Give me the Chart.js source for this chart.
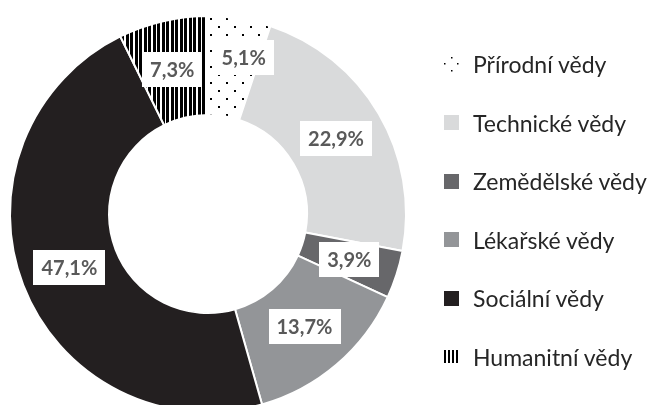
<!DOCTYPE html>
<html lang="cs">
<head>
<meta charset="UTF-8">
<title>Obory vědy</title>
<script src="https://cdn.jsdelivr.net/npm/chart.js"></script>
<style>
    body {
        margin: 0;
        width: 655px;
        height: 405px;
        overflow: hidden;
        background: #ffffff;
        font-family: Lato, "Open Sans", sans-serif;
        position: relative;
    }
    #chart {
        position: absolute;
        left: 0;
        top: 0;
    }
    #legend {
        position: absolute;
        left: 444px;
        top: 49px;
    }
    .item {
        display: flex;
        align-items: center;
        height: 30px;
        margin-bottom: 28.6px;
        font-size: 23px;
        color: #262626;
        white-space: nowrap;
    }
    .item canvas {
        margin-right: 14px;
    }
</style>
</head>
<body>
<canvas id="chart" width="420" height="430"></canvas>
<div id="legend"></div>

<script>
// data
const obory = ['Přírodní vědy', 'Technické vědy', 'Zemědělské vědy', 'Lékařské vědy', 'Sociální vědy', 'Humanitní vědy'];
const podily = [5.1, 22.9, 3.9, 13.7, 47.1, 7.3];
const popisky = ['5,1%', '22,9%', '3,9%', '13,7%', '47,1%', '7,3%'];

// vzory: tečky a svislé pruhy
function teckovany() {
    const c = document.createElement('canvas');
    c.width = 16; c.height = 16;
    const g = c.getContext('2d');
    g.fillStyle = '#fff';
    g.fillRect(0, 0, 16, 16);
    g.fillStyle = '#000';
    g.fillRect(2, 2, 2, 2);
    g.fillRect(10, 10, 2, 2);
    return c;
}
function pruhovany() {
    const c = document.createElement('canvas');
    c.width = 9; c.height = 4;
    const g = c.getContext('2d');
    g.fillStyle = '#fff';
    g.fillRect(0, 0, 9, 4);
    g.fillStyle = '#000';
    g.fillRect(0, 0, 3, 4);
    g.fillRect(4, 0, 3, 4);
    return c;
}

const ctx = document.getElementById('chart').getContext('2d');
const barvy = [
    ctx.createPattern(teckovany(), 'repeat'),
    '#d9dadb',
    '#67676a',
    '#939598',
    '#231f20',
    ctx.createPattern(pruhovany(), 'repeat')
];

// popisky v bílých rámečcích uprostřed výsečí
// (první popisek je odsunutý, aby se nepřekrýval s posledním)
const posun = [[12, -10], [0, 0], [0, 0], [0, 0], [0, 0], [-2, 0]];
const stitky = {
    id: 'stitky',
    afterDatasetsDraw(chart) {
        const c = chart.ctx;
        const meta = chart.getDatasetMeta(0);
        c.save();
        c.font = 'bold 20px Lato, sans-serif';
        c.textAlign = 'center';
        c.textBaseline = 'middle';
        meta.data.forEach((arc, i) => {
            const p = arc.tooltipPosition();
            const x = p.x + posun[i][0];
            const y = p.y + posun[i][1];
            const w = c.measureText(popisky[i]).width + 16;
            const h = 35;
            c.fillStyle = '#ffffff';
            c.fillRect(Math.round(x - w / 2), Math.round(y - h / 2), Math.round(w), h);
            c.fillStyle = '#595959';
            c.fillText(popisky[i], x, y + 1);
        });
        c.restore();
    }
};

new Chart(ctx, {
    type: 'doughnut',
    data: {
        labels: obory,
        datasets: [{
            data: podily,
            backgroundColor: barvy,
            borderColor: '#ffffff',
            borderWidth: 2,
            hoverOffset: 0
        }]
    },
    options: {
        responsive: false,
        animation: false,
        cutout: '50%',
        layout: { padding: { left: 9, top: 15, right: 13, bottom: 17 } },
        plugins: {
            legend: { display: false },
            tooltip: { enabled: false }
        }
    },
    plugins: [stitky]
});

// legenda
const legenda = document.getElementById('legend');
obory.forEach((nazev, i) => {
    const div = document.createElement('div');
    div.className = 'item';
    const sw = document.createElement('canvas');
    sw.width = 15; sw.height = 15;
    const g = sw.getContext('2d');
    if (i === 0) {
        g.fillStyle = '#000';
        [[7, 0], [0, 6], [13, 6], [7, 13]].forEach(d => g.fillRect(d[0], d[1], 1.5, 1.5));
    } else if (i === 5) {
        g.fillStyle = '#000';
        for (let x = 0; x < 14; x += 4) g.fillRect(x, 1, 2, 13);
    } else {
        g.fillStyle = barvy[i];
        g.fillRect(0, 0, 15, 15);
    }
    div.appendChild(sw);
    div.appendChild(document.createTextNode(nazev));
    legenda.appendChild(div);
});
</script>
</body>
</html>
